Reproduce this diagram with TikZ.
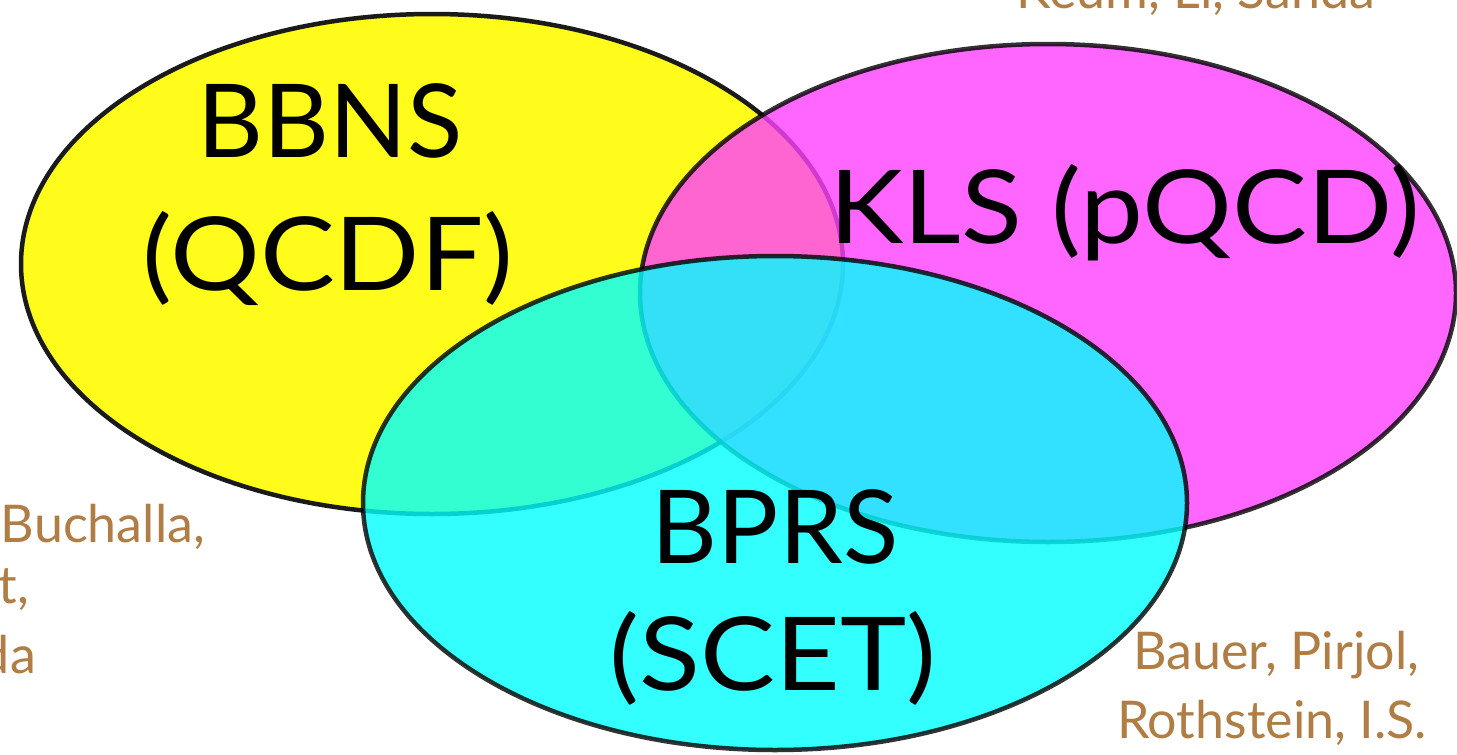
\documentclass[tikz,border=0pt]{standalone}
\usepackage{fontspec}
\setmainfont{Lato}
\definecolor{vyellow}{RGB}{255,251,26}
\definecolor{vmagenta}{RGB}{255,64,255}
\definecolor{vcyan}{RGB}{0,255,255}
\definecolor{authorbrown}{RGB}{176,125,69}
\definecolor{edge}{RGB}{26,26,26}
\tikzset{
  setshape/.style={line width=4.5pt},
  biglabel/.style={inner sep=0pt, anchor=base, text=black, font=\fontsize{102}{122}\selectfont},
  author/.style={inner sep=0pt, text=authorbrown, font=\fontsize{52}{62}\selectfont}
}
\newcommand{\widen}[1]{\scalebox{1.1}[1]{#1}}
\begin{document}
\begin{tikzpicture}[x=1pt,y=-1pt]
\useasboundingbox (0,0) rectangle (1457,755);
\clip (0,0) rectangle (1457,755);
% sets
\path[setshape, fill=vyellow, draw=edge] (432,264) ellipse [x radius=411pt, y radius=250pt];
\path[setshape, fill=vmagenta, draw=black, opacity=0.8] (1048,293) ellipse [x radius=408pt, y radius=249pt];
\path[setshape, fill=vcyan, draw=black, opacity=0.8] (775,503) ellipse [x radius=412pt, y radius=247pt];
% labels
\node[biglabel] (bbns) at (330,157) {BBNS};
\node[biglabel] (qcdf) at (328,290) {\widen{(QCDF)}};
\node[biglabel] (kls) at (1125,243) {\widen{KLS (pQCD)}};
\node[biglabel] (bprs) at (775,563) {BPRS};
\node[biglabel] (scet) at (773,690) {\widen{(SCET)}};
% authors
\node[author, anchor=base] (keum) at (1196,8) {Keum, Li, Sanda};
\node[author, anchor=base east] (ben1) at (205,542) {Beneke, Buchalla,};
\node[author, anchor=base east] (ben2) at (29,603) {Neubert,};
\node[author, anchor=base east] (ben3) at (36,673) {Sachrajda};
\node[author, anchor=base] (bau1) at (1276,669) {Bauer, Pirjol,};
\node[author, anchor=base] (bau2) at (1272,738) {Rothstein, I.S.};
\end{tikzpicture}
\end{document}
